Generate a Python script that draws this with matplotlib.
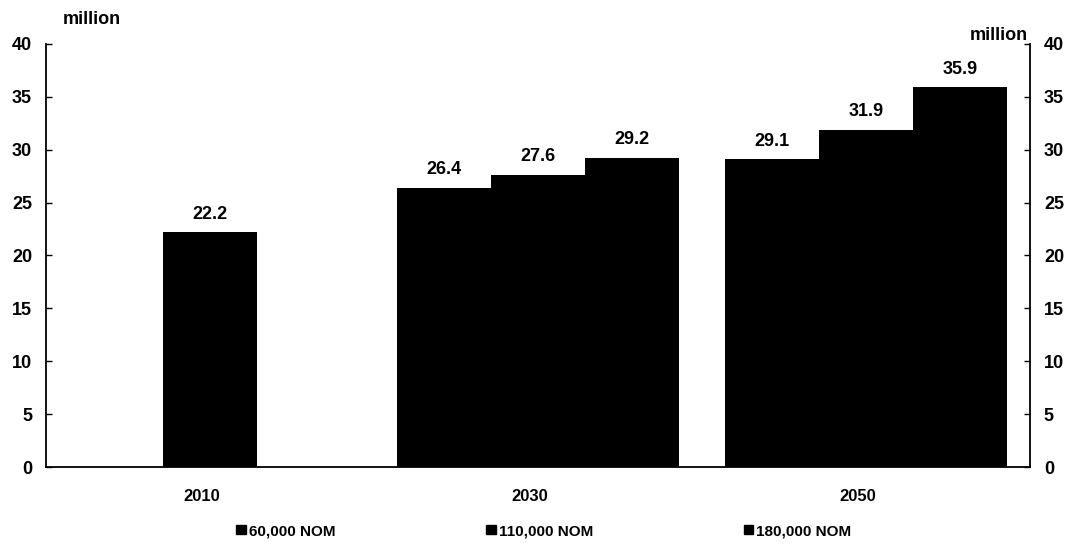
import matplotlib
matplotlib.use("Agg")
import matplotlib.pyplot as plt
import matplotlib.transforms as mtransforms
from matplotlib.patches import Patch

plt.rcParams["font.family"] = ["Liberation Sans", "DejaVu Sans"]

# values (million)
years = ["2010", "2030", "2050"]
base_2010 = 22.2
scenarios = ["60,000 NOM", "110,000 NOM", "180,000 NOM"]
nom_60k = [26.4, 29.1]
nom_110k = [27.6, 31.9]
nom_180k = [29.2, 35.9]
yticks = [0, 5, 10, 15, 20, 25, 30, 35, 40]

W, H = 1075, 547
fig = plt.figure(figsize=(W / 100, H / 100), dpi=100)
ax = fig.add_axes([46 / W, 80 / H, (1030 - 46) / W, (503 - 80) / H])

BAR_W = 0.287
COLOR = "black"

# 2010: one bar, centred on its group
b = ax.bar([0], [base_2010], width=BAR_W, color=COLOR, linewidth=0)
ax.bar_label(b, labels=[f"{base_2010:.1f}"], padding=7, fontsize=13, fontweight="bold")

later = [1, 2]
for k, vals in enumerate([nom_60k, nom_110k, nom_180k]):
    xs = [g + (k - 1) * BAR_W for g in later]
    b = ax.bar(xs, vals, width=BAR_W, color=COLOR, linewidth=0)
    ax.bar_label(b, labels=[f"{v:.1f}" for v in vals], padding=7, fontsize=13, fontweight="bold")

ax.set_xlim(-0.5, 2.5)
ax.set_ylim(0, 40)

# same scale on both sides
ax.set_yticks(yticks)
ax.set_yticklabels([str(t) for t in yticks], fontsize=13, fontweight="bold")
ax.tick_params(axis="y", direction="in", length=4, width=1, pad=10,
               left=True, right=True, labelleft=True, labelright=True)

# years under the groups
ax.set_xticks(range(len(years)))
ax.set_xticklabels(years, fontsize=12, fontweight="bold")
ax.tick_params(axis="x", length=0, pad=16)
shift = mtransforms.ScaledTranslation(-8 / 100, 0, fig.dpi_scale_trans)
for lab in ax.get_xticklabels():
    lab.set_transform(lab.get_transform() + shift)

ax.spines["top"].set_visible(False)
for s in ["left", "right", "bottom"]:
    ax.spines[s].set_linewidth(1.3)
    ax.spines[s].set_color("black")

fig.text(63 / W, 1 - 20 / H, "million", fontsize=13, fontweight="bold", va="center", ha="left")
fig.text(1028 / W, 1 - 35 / H, "million", fontsize=13, fontweight="bold", va="center", ha="right")

handles = [Patch(color=COLOR) for _ in scenarios]
fig.legend(handles, scenarios, loc="center", bbox_to_anchor=(544 / W, 1 - 531 / H),
           ncol=3, frameon=False, handlelength=0.6, handleheight=0.6,
           handletextpad=0.2, columnspacing=9.9,
           prop={"size": 11, "weight": "bold"})

fig.savefig("out.png", dpi=100)
